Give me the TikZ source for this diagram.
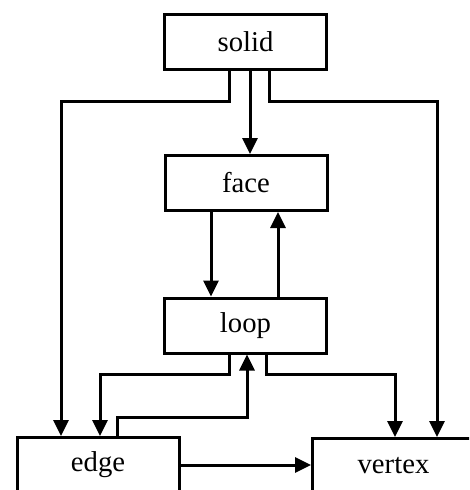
\documentclass[tikz,border=0pt]{standalone}
\usepackage{fontspec}
\setmainfont{Liberation Serif}
\usetikzlibrary{arrows.meta}
\begin{document}
\begin{tikzpicture}[x=1pt,y=-1pt,
  box/.style={draw, line width=3pt, minimum width=162pt, minimum height=55pt, inner sep=0pt,
    font=\fontsize{28.7}{34}\selectfont},
  arr/.style={line width=3pt, -{Triangle[width=15pt,length=16pt]}},
  ln/.style={line width=3pt}]
\useasboundingbox (0,0) rectangle (469,490);
\clip (0,0) rectangle (469,490);
\node[box] (solid) at (245.5,42) {solid};
\node[box] (face) at (246,183) {face};
\node[box] (loop) at (245.5,325.5) {loop};
\node[box] (edge) at (98,465) {edge};
\node[box] (vertex) at (393.5,466) {vertex};
\draw[arr] (250,0 |- solid.south) -- (250,0 |- face.north);
\draw[arr] (229,0 |- solid.south) |- (61,101) -- (61,0 |- edge.north);
\draw[arr] (269,0 |- solid.south) |- (437,101) -- (437,0 |- vertex.north);
\draw[arr] (211,0 |- face.south) -- (211,0 |- loop.north);
\draw[arr] (278,0 |- loop.north) -- (278,0 |- face.south);
\draw[arr] (229,0 |- loop.south) |- (100,374) -- (100,0 |- edge.north);
\draw[arr] (117,0 |- edge.north) |- (247,417) -- (247,0 |- loop.south);
\draw[arr] (266,0 |- loop.south) |- (395,374) -- (395,0 |- vertex.north);
\draw[arr] (edge.east) -- (edge.east -| vertex.west);
\end{tikzpicture}
\end{document}
